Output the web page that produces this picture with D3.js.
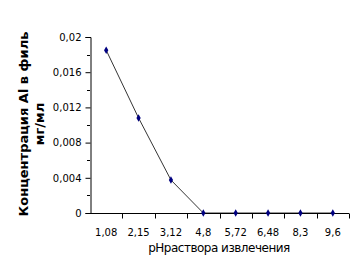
<!DOCTYPE html>
<html>
<head>
<meta charset="utf-8">
<script src="https://cdn.jsdelivr.net/npm/d3@7"></script>
<style>
  body { margin: 0; background: #fff; }
  svg text { font-family: "DejaVu Sans", Verdana, sans-serif; }
</style>
</head>
<body>
<div id="chart"></div>
<script>
const categories = ["1,08", "2,15", "3,12", "4,8", "5,72", "6,48", "8,3", "9,6"];
const values = [0.0185, 0.0108, 0.00375, 0, 0, 0, 0, 0];
const yTicks = [0, 0.004, 0.008, 0.012, 0.016, 0.02];
const yTickLabels = ["0", "0,004", "0,008", "0,012", "0,016", "0,02"];

const width = 364, height = 268;
const margin = {left: 90, right: 15, top: 37, bottom: 55};

const svg = d3.select("#chart").append("svg")
    .attr("width", width)
    .attr("height", height);

const x = d3.scaleBand()
    .domain(categories)
    .range([margin.left, width - margin.right]);

const y = d3.scaleLinear()
    .domain([0, 0.02])
    .range([height - margin.bottom, margin.top]);

// minor y ticks
svg.append("g")
    .selectAll("line")
    .data(d3.range(0.002, 0.02, 0.004))
    .enter().append("line")
    .attr("x1", margin.left - 3)
    .attr("x2", margin.left)
    .attr("y1", d => Math.round(y(d)) + 0.5)
    .attr("y2", d => Math.round(y(d)) + 0.5)
    .attr("stroke", "#000");

// y axis
const yAxis = svg.append("g")
    .attr("transform", `translate(${margin.left + 0.5},0)`)
    .call(d3.axisLeft(y).tickValues(yTicks).tickSize(5).tickPadding(4)
        .tickFormat((d, i) => yTickLabels[i]));
yAxis.select(".domain").attr("stroke", "#000");
yAxis.selectAll("text").attr("font-size", 10).attr("fill", "#000");

// x axis: ticks at band edges
const xAxis = svg.append("g")
    .attr("transform", `translate(0,${Math.round(y(0)) + 0.5})`);
xAxis.append("line")
    .attr("x1", margin.left)
    .attr("x2", width - margin.right)
    .attr("stroke", "#000");
xAxis.selectAll("line.tk")
    .data(categories)
    .enter().append("line")
    .attr("class", "tk")
    .attr("x1", d => Math.round(x(d) + x.bandwidth()) + 0.5)
    .attr("x2", d => Math.round(x(d) + x.bandwidth()) + 0.5)
    .attr("y1", 0)
    .attr("y2", 5)
    .attr("stroke", "#000");
xAxis.selectAll("text")
    .data(categories)
    .enter().append("text")
    .attr("x", d => x(d) + x.bandwidth() / 2)
    .attr("y", 22)
    .attr("text-anchor", "middle")
    .attr("font-size", 10)
    .text(d => d);

// line
const line = d3.line()
    .x((d, i) => x(categories[i]) + x.bandwidth() / 2)
    .y(d => y(d));

svg.append("path")
    .datum(values)
    .attr("d", line)
    .attr("fill", "none")
    .attr("stroke", "#000")
    .attr("stroke-width", 0.8);

// diamond markers
svg.append("g")
    .selectAll("path")
    .data(values)
    .enter().append("path")
    .attr("transform", (d, i) => `translate(${x(categories[i]) + x.bandwidth() / 2},${y(d)})`)
    .attr("d", d3.symbol().type(d3.symbolDiamond).size(16))
    .attr("fill", "#000080");

// axis titles
svg.append("text")
    .attr("x", 219)
    .attr("y", 252)
    .attr("text-anchor", "middle")
    .attr("font-size", 12)
    .attr("letter-spacing", -0.5)
    .text("pHраствора извлечения");

const yTitle = svg.append("text")
    .attr("transform", "translate(28,124) rotate(-90)")
    .attr("text-anchor", "middle")
    .attr("font-size", 13)
    .attr("font-weight", "bold");
yTitle.append("tspan").attr("x", 0).attr("dy", 0).text("Концентрация Al в филь");
yTitle.append("tspan").attr("x", 0).attr("dy", 16).text("мг/мл");
</script>
</body>
</html>
